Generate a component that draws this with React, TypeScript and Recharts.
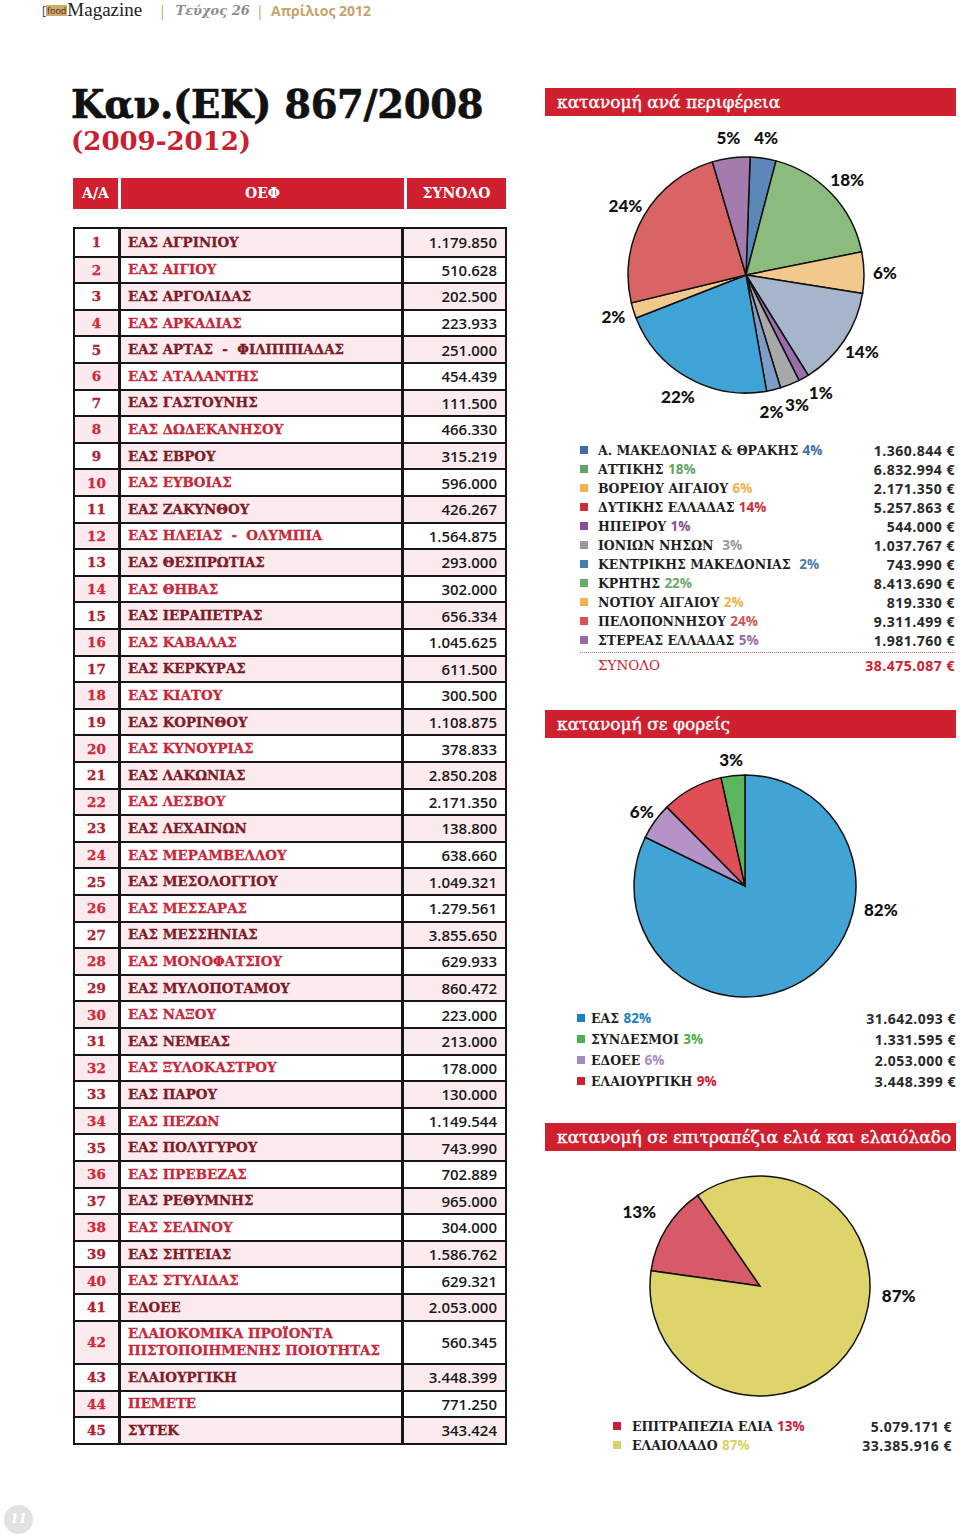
import { PieChart, Pie, Cell } from 'recharts';

// table: ΟΕΦ and totals (2009-2012)
const oefNames = [
  'ΕΑΣ ΑΓΡΙΝΙΟΥ', 'ΕΑΣ ΑΙΓΙΟΥ', 'ΕΑΣ ΑΡΓΟΛΙΔΑΣ', 'ΕΑΣ ΑΡΚΑΔΙΑΣ', 'ΕΑΣ ΑΡΤΑΣ  -  ΦΙΛΙΠΠΙΑΔΑΣ',
  'ΕΑΣ ΑΤΑΛΑΝΤΗΣ', 'ΕΑΣ ΓΑΣΤΟΥΝΗΣ', 'ΕΑΣ ΔΩΔΕΚΑΝΗΣΟΥ', 'ΕΑΣ ΕΒΡΟΥ', 'ΕΑΣ ΕΥΒΟΙΑΣ',
  'ΕΑΣ ΖΑΚΥΝΘΟΥ', 'ΕΑΣ ΗΛΕΙΑΣ  -  ΟΛΥΜΠΙΑ', 'ΕΑΣ ΘΕΣΠΡΩΤΙΑΣ', 'ΕΑΣ ΘΗΒΑΣ', 'ΕΑΣ ΙΕΡΑΠΕΤΡΑΣ',
  'ΕΑΣ ΚΑΒΑΛΑΣ', 'ΕΑΣ ΚΕΡΚΥΡΑΣ', 'ΕΑΣ ΚΙΑΤΟΥ', 'ΕΑΣ ΚΟΡΙΝΘΟΥ', 'ΕΑΣ ΚΥΝΟΥΡΙΑΣ',
  'ΕΑΣ ΛΑΚΩΝΙΑΣ', 'ΕΑΣ ΛΕΣΒΟΥ', 'ΕΑΣ ΛΕΧΑΙΝΩΝ', 'ΕΑΣ ΜΕΡΑΜΒΕΛΛΟΥ', 'ΕΑΣ ΜΕΣΟΛΟΓΓΙΟΥ',
  'ΕΑΣ ΜΕΣΣΑΡΑΣ', 'ΕΑΣ ΜΕΣΣΗΝΙΑΣ', 'ΕΑΣ ΜΟΝΟΦΑΤΣΙΟΥ', 'ΕΑΣ ΜΥΛΟΠΟΤΑΜΟΥ', 'ΕΑΣ ΝΑΞΟΥ',
  'ΕΑΣ ΝΕΜΕΑΣ', 'ΕΑΣ ΞΥΛΟΚΑΣΤΡΟΥ', 'ΕΑΣ ΠΑΡΟΥ', 'ΕΑΣ ΠΕΖΩΝ', 'ΕΑΣ ΠΟΛΥΓΥΡΟΥ',
  'ΕΑΣ ΠΡΕΒΕΖΑΣ', 'ΕΑΣ ΡΕΘΥΜΝΗΣ', 'ΕΑΣ ΣΕΛΙΝΟΥ', 'ΕΑΣ ΣΗΤΕΙΑΣ', 'ΕΑΣ ΣΤΥΛΙΔΑΣ',
  'ΕΔΟΕΕ', 'ΕΛΑΙΟΚΟΜΙΚΑ ΠΡΟΪΟΝΤΑ\nΠΙΣΤΟΠΟΙΗΜΕΝΗΣ ΠΟΙΟΤΗΤΑΣ', 'ΕΛΑΙΟΥΡΓΙΚΗ', 'ΠΕΜΕΤΕ', 'ΣΥΤΕΚ',
];
const oefTotals = [
  1179850, 510628, 202500, 223933, 251000, 454439, 111500, 466330, 315219, 596000,
  426267, 1564875, 293000, 302000, 656334, 1045625, 611500, 300500, 1108875, 378833,
  2850208, 2171350, 138800, 638660, 1049321, 1279561, 3855650, 629933, 860472, 223000,
  213000, 178000, 130000, 1149544, 743990, 702889, 965000, 304000, 1586762, 629321,
  2053000, 560345, 3448399, 771250, 343424,
];

// κατανομή ανά περιφέρεια
const regions = [
  'Α. ΜΑΚΕΔΟΝΙΑΣ & ΘΡΑΚΗΣ', 'ΑΤΤΙΚΗΣ', 'ΒΟΡΕΙΟΥ ΑΙΓΑΙΟΥ', 'ΔΥΤΙΚΗΣ ΕΛΛΑΔΑΣ', 'ΗΠΕΙΡΟΥ',
  'ΙΟΝΙΩΝ ΝΗΣΩΝ ', 'ΚΕΝΤΡΙΚΗΣ ΜΑΚΕΔΟΝΙΑΣ ', 'ΚΡΗΤΗΣ', 'ΝΟΤΙΟΥ ΑΙΓΑΙΟΥ', 'ΠΕΛΟΠΟΝΝΗΣΟΥ', 'ΣΤΕΡΕΑΣ ΕΛΛΑΔΑΣ',
];
const regionValues = [1360844, 6832994, 2171350, 5257863, 544000, 1037767, 743990, 8413690, 819330, 9311499, 1981760];
const regionPct = ['4%', '18%', '6%', '14%', '1%', '3%', '2%', '22%', '2%', '24%', '5%'];
const regionTotal = 38475087;

// κατανομή σε φορείς
const bodies = ['ΕΑΣ', 'ΣΥΝΔΕΣΜΟΙ', 'ΕΔΟΕΕ', 'ΕΛΑΙΟΥΡΓΙΚΗ'];
const bodyValues = [31642093, 1331595, 2053000, 3448399];
const bodyPct = ['82%', '3%', '6%', '9%'];

// κατανομή σε επιτραπέζια ελιά και ελαιόλαδο
const products = ['ΕΠΙΤΡΑΠΕΖΙΑ ΕΛΙΑ', 'ΕΛΑΙΟΛΑΔΟ'];
const productValues = [5079171, 33385916];
const productPct = ['13%', '87%'];

const regionPie = ['#5b88b8', '#8cbb7e', '#f1c98c', '#a6b5c9', '#9a6dab', '#a8a8a8', '#7d9dc6', '#40a3d6', '#f1c98c', '#d96464', '#a57aac'];
const regionKey = ['#3d6fa6', '#5fa564', '#f0b24e', '#c9303b', '#8a4d98', '#9a9a9a', '#4a7cb0', '#6aab6a', '#f0b24e', '#d35456', '#9b6bab'];
const bodyPie = ['#42a3d5', '#5bb55e', '#b593c8', '#e04f56'];
const bodyKey = ['#1e7fc0', '#4caf50', '#a88ac2', '#d0202f'];
const productPie = ['#d75a68', '#ddd46c'];
const productKey = ['#c8203a', '#d9d068'];

const RED = '#d0202f';
const RAD = Math.PI / 180;
const serif = '"DejaVu Serif", serif';
const sans = '"Open Sans", sans-serif';

const fmt = (n: number) => String(n).replace(/\B(?=(\d{3})+(?!\d))/g, '.');

// push apart labels of neighbouring thin slices (returns an angle delta per slice)
function spreadLabels(values: number[], start: number, minGap: number) {
  const total = values.reduce((a, b) => a + b, 0);
  let acc = 0;
  const mids = values.map((v) => {
    const m = start - ((acc + v / 2) / total) * 360;
    acc += v;
    return m;
  });
  const adj = mids.slice();
  for (let it = 0; it < 30; it++) {
    for (let i = 0; i < adj.length - 1; i++) {
      const gap = adj[i] - adj[i + 1];
      if (gap < minGap) {
        const push = (minGap - gap) / 2;
        adj[i] += push;
        adj[i + 1] -= push;
      }
    }
  }
  return adj.map((a, i) => a - mids[i]);
}

function pieLabel(offset: number, bigOffset: number, bigAngle: number, delta: number[] = [], skip: string[] = []) {
  return (p: any) => {
    const name = p.name ?? p.payload?.name;
    if (skip.includes(name)) return null;
    const big = p.percent > 0.5;
    const a = big ? bigAngle : p.midAngle + (delta[p.index] ?? 0);
    const r = p.outerRadius + (big ? bigOffset : offset);
    const x = p.cx + r * Math.cos(-a * RAD);
    const y = p.cy + r * Math.sin(-a * RAD);
    return (
      <text key={`l${p.index}`} x={x} y={y} textAnchor="middle" dominantBaseline="central"
        style={{ fontFamily: 'Lato, sans-serif', fontWeight: 900, fontSize: 17, fill: '#111' }}>
        {p.pct ?? p.payload?.pct}
      </text>
    );
  };
}

function SectionBar({ top, text }: { top: number; text: string }) {
  return (
    <div style={{ position: 'absolute', left: 545, top, width: 411, height: 28, background: RED, color: '#fff',
      fontFamily: serif, fontSize: 17, lineHeight: '28px', paddingLeft: 12, boxSizing: 'border-box',
      WebkitTextStroke: '0.4px #fff', whiteSpace: 'nowrap' }}>
      {text}
    </div>
  );
}

function LegendRow({ top, left, square, right, label, pct, pctColor, value, keyColor }: any) {
  return (
    <div style={{ position: 'absolute', top, left: square, width: right - square, height: 19 }}>
      <div style={{ position: 'absolute', left: 0, top: 5, width: 8, height: 8, background: keyColor }} />
      <div style={{ position: 'absolute', left: left - square, top: 0, lineHeight: '19px', whiteSpace: 'pre',
        fontFamily: serif, fontWeight: 700, fontSize: 12.5, color: '#1e1e1e' }}>
        {label}{' '}
        <span style={{ fontFamily: sans, fontWeight: 700, fontSize: 13.5, color: pctColor }}>{pct}</span>
      </div>
      <div style={{ position: 'absolute', right: 0, top: 0, lineHeight: '19px', fontFamily: sans, fontWeight: 700,
        fontSize: 14, color: '#2a2a2a', letterSpacing: 0.5 }}>
        {fmt(value)} €
      </div>
    </div>
  );
}

function Table() {
  const rowH = (i: number) => (oefNames[i].includes('\n') ? 43.4 : 26.6);
  let y = 0;
  const rows = oefNames.map((name, i) => {
    const h = rowH(i);
    const top = y;
    y += h;
    const odd = i % 2 === 0;
    const pink = '#fcebee';
    return (
      <div key={i} style={{ position: 'absolute', left: 0, top, width: 430, height: h, boxSizing: 'border-box',
        borderTop: i === 0 ? 'none' : '2px solid #161616', display: 'flex' }}>
        <div style={{ width: 43, background: odd ? '#fff' : pink, borderRight: '3px solid #161616',
          display: 'flex', alignItems: 'center', justifyContent: 'center', WebkitTextStroke: '0.3px',
          fontFamily: serif, fontWeight: 700, fontSize: 13.5, color: odd ? '#b3202e' : '#d32a3a' }}>
          {i + 1}
        </div>
        <div style={{ width: 283, background: odd ? pink : '#fff', borderRight: '3px solid #161616',
          display: 'flex', alignItems: 'center', paddingLeft: 7, boxSizing: 'border-box', whiteSpace: 'pre',
          WebkitTextStroke: '0.3px',
          fontFamily: serif, fontWeight: 700, fontSize: 13.4, lineHeight: '17px', color: odd ? '#7f1a27' : '#c8283a' }}>
          {name}
        </div>
        <div style={{ flex: 1, background: odd ? pink : '#fff', display: 'flex', alignItems: 'center',
          justifyContent: 'flex-end', paddingRight: 8, fontFamily: sans, fontWeight: 600, fontSize: 15, color: '#1a1a1a' }}>
          {fmt(oefTotals[i])}
        </div>
      </div>
    );
  });
  return (
    <div style={{ position: 'absolute', left: 73, top: 227, width: 434, height: y + 4, border: '2px solid #161616',
      boxSizing: 'border-box' }}>
      {rows}
    </div>
  );
}

export default function App() {
  const regionData = regions.map((name, i) => ({ name, value: regionValues[i], pct: regionPct[i], fill: regionPie[i] }));
  // clockwise order as drawn: ΕΑΣ, ΕΔΟΕΕ, ΕΛΑΙΟΥΡΓΙΚΗ, ΣΥΝΔΕΣΜΟΙ
  const bodyData = [0, 2, 3, 1].map((i) => ({ name: bodies[i], value: bodyValues[i], pct: bodyPct[i], fill: bodyPie[i] }));
  const productData = products.map((name, i) => ({ name, value: productValues[i], pct: productPct[i], fill: productPie[i] }));
  const regionStart = 88;
  const regionDelta = spreadLabels(regionValues, regionStart, 11);

  return (
    <div style={{ position: 'absolute', left: 0, top: 0, width: 960, height: 1537, background: '#fff', overflow: 'hidden' }}>
      {/* masthead */}
      <div style={{ position: 'absolute', left: 42, top: 0, height: 20, display: 'flex', alignItems: 'center', whiteSpace: 'pre' }}>
        <span style={{ fontFamily: sans, fontSize: 12, color: '#444' }}>[</span>
        <span style={{ background: '#cfa96e', fontFamily: sans, fontSize: 9, lineHeight: '11px', color: '#3a2a10', padding: '0 1px' }}>food</span>
        <span style={{ fontFamily: '"Liberation Serif", serif', fontSize: 19, color: '#222' }}>Magazine</span>
        <span style={{ fontFamily: sans, fontSize: 15, color: '#c9a86a', marginLeft: 16 }}>|</span>
        <span style={{ fontFamily: serif, fontStyle: 'italic', fontWeight: 700, fontSize: 13, color: '#8d8d8d', marginLeft: 9 }}>Τεύχος 26</span>
        <span style={{ fontFamily: sans, fontSize: 15, color: '#c9a86a', marginLeft: 6 }}>|</span>
        <span style={{ fontFamily: sans, fontWeight: 700, fontSize: 14, color: '#c6a46c', marginLeft: 7 }}>Απρίλιος 2012</span>
      </div>

      {/* title */}
      <div style={{ position: 'absolute', left: 71, top: 83, fontFamily: serif, fontWeight: 700, fontSize: 38.5, lineHeight: '44px', color: '#111', letterSpacing: -0.3, WebkitTextStroke: '0.6px' }}>
        Καν.(ΕΚ) 867/2008
      </div>
      <div style={{ position: 'absolute', left: 71, top: 126, fontFamily: serif, fontWeight: 700, fontSize: 26, lineHeight: '30px', color: '#c8202f' }}>
        (2009-2012)
      </div>

      {/* table header */}
      {[
        { l: 73, w: 45, t: 'Α/Α' },
        { l: 121, w: 283, t: 'ΟΕΦ' },
        { l: 407, w: 99, t: 'ΣΥΝΟΛΟ' },
      ].map((c) => (
        <div key={c.t} style={{ position: 'absolute', left: c.l, top: 178, width: c.w, height: 31, background: RED, color: '#fff',
          fontFamily: serif, fontWeight: 700, fontSize: 14, lineHeight: '31px', textAlign: 'center' }}>
          {c.t}
        </div>
      ))}
      <Table />

      {/* κατανομή ανά περιφέρεια */}
      <SectionBar top={88} text="κατανομή ανά περιφέρεια" />
      <div style={{ position: 'absolute', left: 540, top: 120 }}>
        <PieChart width={420} height={320}>
          <Pie data={regionData} dataKey="value" nameKey="name" cx={201} cy={150} outerRadius={118}
            startAngle={regionStart} endAngle={regionStart - 360} stroke="#111" strokeWidth={1.5} isAnimationActive={false}
            labelLine={false} label={pieLabel(21, 21, 0, regionDelta)}>
            {regionData.map((d) => <Cell key={d.name} fill={d.fill} />)}
          </Pie>
        </PieChart>
      </div>
      {regions.map((r, i) => (
        <LegendRow key={r} top={440.5 + i * 19} square={580} left={598} right={955} label={r} pct={regionPct[i]}
          pctColor={regionKey[i]} keyColor={regionKey[i]} value={regionValues[i]} />
      ))}
      <div style={{ position: 'absolute', left: 580, top: 652, width: 375, borderTop: '1.5px dotted #d86a70' }} />
      <div style={{ position: 'absolute', left: 598, top: 656, fontFamily: serif, fontSize: 13.5, lineHeight: '19px', color: RED }}>ΣΥΝΟΛΟ</div>
      <div style={{ position: 'absolute', right: 960 - 955, top: 656, fontFamily: sans, fontWeight: 700, fontSize: 14, lineHeight: '19px', color: RED, letterSpacing: 0.5 }}>
        {fmt(regionTotal)} €
      </div>

      {/* κατανομή σε φορείς */}
      <SectionBar top={710} text="κατανομή σε φορείς" />
      <div style={{ position: 'absolute', left: 540, top: 740 }}>
        <PieChart width={420} height={290}>
          <Pie data={bodyData} dataKey="value" nameKey="name" cx={200} cy={141} outerRadius={111}
            startAngle={90} endAngle={-270} stroke="#111" strokeWidth={1.5} isAnimationActive={false}
            labelLine={false} label={pieLabel(16, 27, -10, [], ['ΕΛΑΙΟΥΡΓΙΚΗ'])}>
            {bodyData.map((d) => <Cell key={d.name} fill={d.fill} />)}
          </Pie>
        </PieChart>
      </div>
      {bodies.map((b, i) => (
        <LegendRow key={b} top={1008.5 + i * 21} square={577} left={591} right={956} label={b} pct={bodyPct[i]}
          pctColor={bodyKey[i]} keyColor={bodyKey[i]} value={bodyValues[i]} />
      ))}

      {/* κατανομή σε επιτραπέζια ελιά και ελαιόλαδο */}
      <SectionBar top={1123} text="κατανομή σε επιτραπέζια ελιά και ελαιόλαδο" />
      <div style={{ position: 'absolute', left: 540, top: 1160 }}>
        <PieChart width={420} height={260}>
          <Pie data={productData} dataKey="value" nameKey="name" cx={215} cy={121} outerRadius={110}
            startAngle={172} endAngle={-188} stroke="#111" strokeWidth={1.5} isAnimationActive={false}
            labelLine={false} label={pieLabel(32, 29, -4)}>
            {productData.map((d) => <Cell key={d.name} fill={d.fill} />)}
          </Pie>
        </PieChart>
      </div>
      {products.map((p, i) => (
        <LegendRow key={p} top={1416.5 + i * 19} square={613} left={632} right={952} label={p} pct={productPct[i]}
          pctColor={productKey[i]} keyColor={productKey[i]} value={productValues[i]} />
      ))}

      {/* page number */}
      <div style={{ position: 'absolute', left: 4, top: 1505, width: 29, height: 29, borderRadius: '50%', background: '#e2e2e2',
        color: '#fff', fontFamily: serif, fontStyle: 'italic', fontWeight: 700, fontSize: 12, lineHeight: '29px', textAlign: 'center' }}>
        11
      </div>
    </div>
  );
}
